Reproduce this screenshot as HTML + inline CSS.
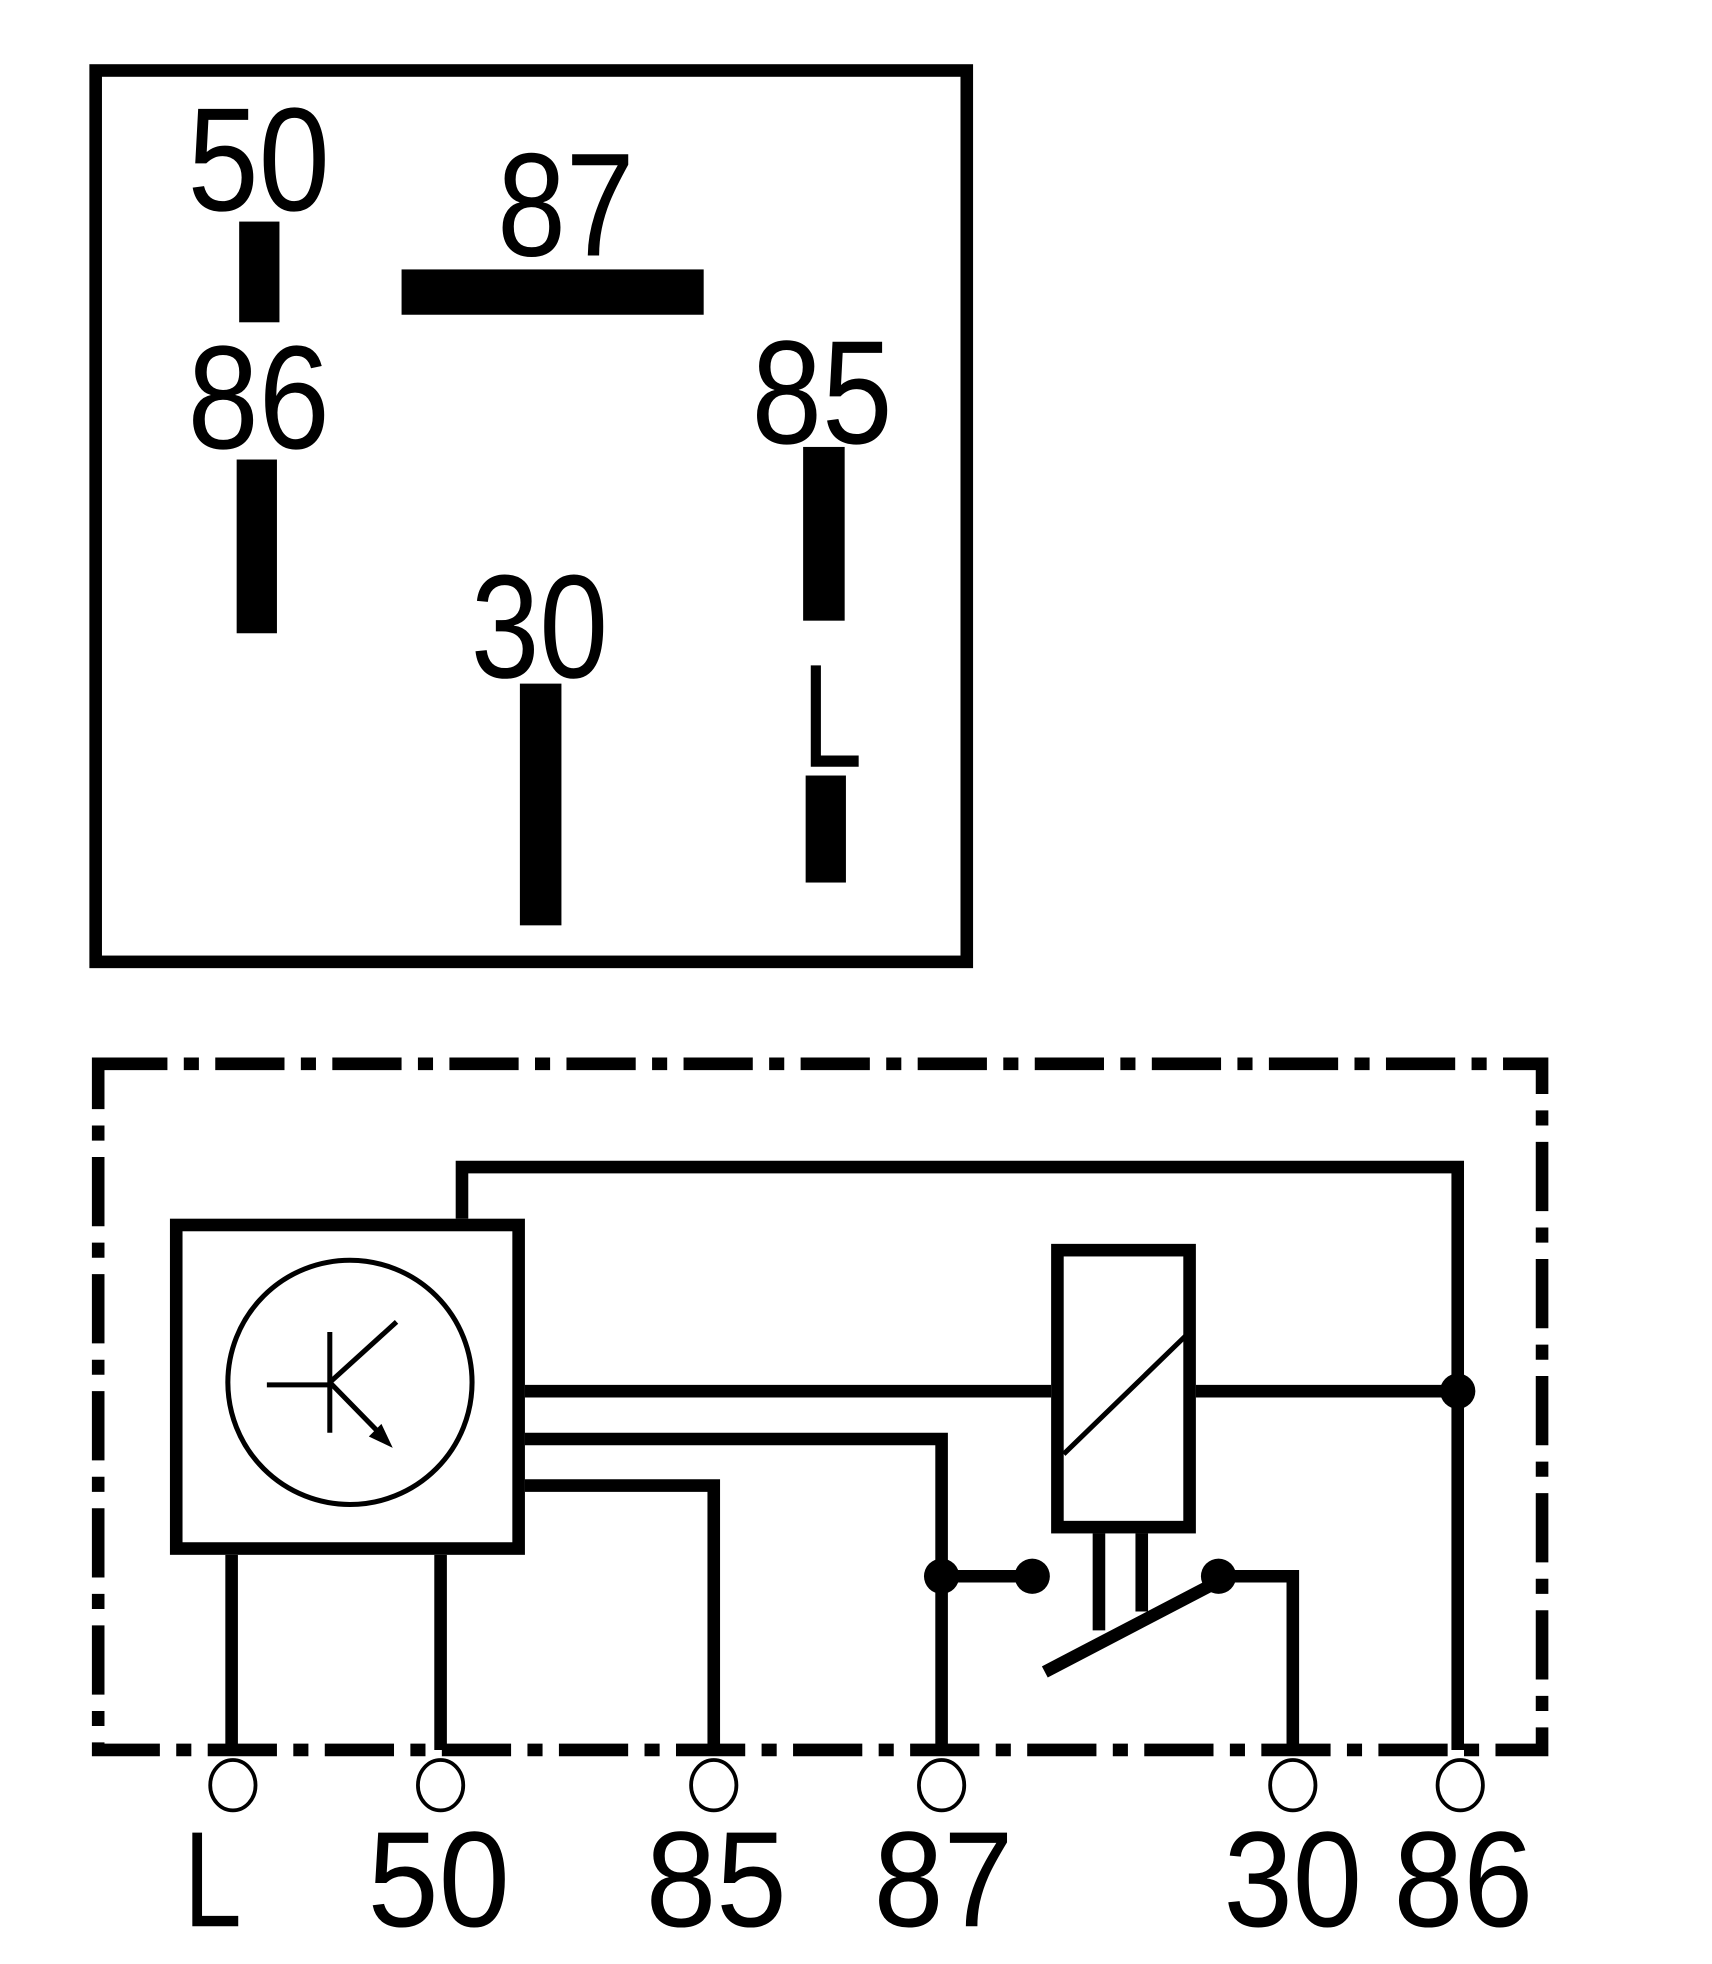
<!DOCTYPE html>
<html><head><meta charset="utf-8"><style>
html,body{margin:0;padding:0;background:#fff;}
svg{display:block;}
text{font-family:"Liberation Sans",sans-serif;fill:#000;}
</style></head><body>
<svg width="1712" height="1964" viewBox="0 0 1360 1560" preserveAspectRatio="none" xmlns="http://www.w3.org/2000/svg">
<rect width="1360" height="1560" fill="#fff"/>
<!-- top box -->
<rect x="76" y="56" width="692" height="708" fill="none" stroke="#000" stroke-width="10"/>
<rect x="190" y="176" width="32" height="80"/>
<rect x="319" y="214" width="240" height="36"/>
<rect x="188" y="365" width="32" height="138"/>
<rect x="638" y="355" width="33" height="138"/>
<rect x="413" y="543" width="33" height="192"/>
<rect x="640" y="616" width="32" height="85"/>
<text x="149" y="167" font-size="117" textLength="113" lengthAdjust="spacingAndGlyphs">50</text>
<text x="395" y="203" font-size="117" textLength="109" lengthAdjust="spacingAndGlyphs">87</text>
<text x="149" y="356" font-size="117" textLength="113" lengthAdjust="spacingAndGlyphs">86</text>
<text x="597" y="352" font-size="117" textLength="112" lengthAdjust="spacingAndGlyphs">85</text>
<text x="374" y="538" font-size="117" textLength="109" lengthAdjust="spacingAndGlyphs">30</text>
<text x="637" y="609" font-size="117" textLength="48" lengthAdjust="spacingAndGlyphs">L</text>
<!-- dash-dot enclosure -->
<rect x="78" y="845" width="1147" height="545" fill="none" stroke="#000" stroke-width="10" stroke-dasharray="55 13 12 13"/>
<g fill="none" stroke="#000" stroke-width="10">
<rect x="140" y="973" width="272" height="257"/>
<polyline points="367,968 367,927 1158,927 1158,1390"/>
<rect x="840" y="993" width="105" height="220"/>
<line x1="417" y1="1105" x2="835" y2="1105"/>
<line x1="950" y1="1105" x2="1158" y2="1105"/>
<polyline points="417,1143 748,1143 748,1390"/>
<line x1="748" y1="1252" x2="820" y2="1252"/>
<polyline points="417,1180 567,1180 567,1390"/>
<line x1="184" y1="1235" x2="184" y2="1390"/>
<line x1="350" y1="1235" x2="350" y2="1390"/>
<line x1="873" y1="1218" x2="873" y2="1295"/>
<line x1="907" y1="1218" x2="907" y2="1280"/>
<line x1="830" y1="1328" x2="968" y2="1256"/>
<polyline points="968,1252 1027,1252 1027,1390"/>
</g>
<line x1="845" y1="1155" x2="945" y2="1058" stroke="#000" stroke-width="4"/>
<circle cx="278" cy="1098" r="97" fill="none" stroke="#000" stroke-width="4"/>
<g stroke="#000" stroke-width="4" fill="none">
<line x1="212" y1="1100" x2="262" y2="1100"/>
<line x1="262" y1="1058" x2="262" y2="1138"/>
<line x1="262" y1="1098" x2="315" y2="1050"/>
<line x1="262" y1="1098" x2="305" y2="1142"/>
</g>
<polygon points="312,1150 293,1141 303,1131"/>
<circle cx="1158" cy="1105" r="14"/>
<circle cx="748" cy="1252" r="14"/>
<circle cx="820" cy="1252" r="14"/>
<circle cx="968" cy="1252" r="14"/>
<g fill="#fff" stroke="#000" stroke-width="3">
<ellipse cx="185" cy="1418" rx="18" ry="20"/>
<ellipse cx="350" cy="1418" rx="18" ry="20"/>
<ellipse cx="567" cy="1418" rx="18" ry="20"/>
<ellipse cx="748" cy="1418" rx="18" ry="20"/>
<ellipse cx="1027" cy="1418" rx="18" ry="20"/>
<ellipse cx="1160" cy="1418" rx="18" ry="20"/>
</g>
<text x="146" y="1530" font-size="108" textLength="46" lengthAdjust="spacingAndGlyphs">L</text>
<text x="292" y="1530" font-size="108" textLength="113" lengthAdjust="spacingAndGlyphs">50</text>
<text x="513" y="1530" font-size="108" textLength="112" lengthAdjust="spacingAndGlyphs">85</text>
<text x="694" y="1530" font-size="108" textLength="111" lengthAdjust="spacingAndGlyphs">87</text>
<text x="972" y="1530" font-size="108" textLength="110" lengthAdjust="spacingAndGlyphs">30</text>
<text x="1107" y="1530" font-size="108" textLength="111" lengthAdjust="spacingAndGlyphs">86</text>
</svg>
</body></html>
